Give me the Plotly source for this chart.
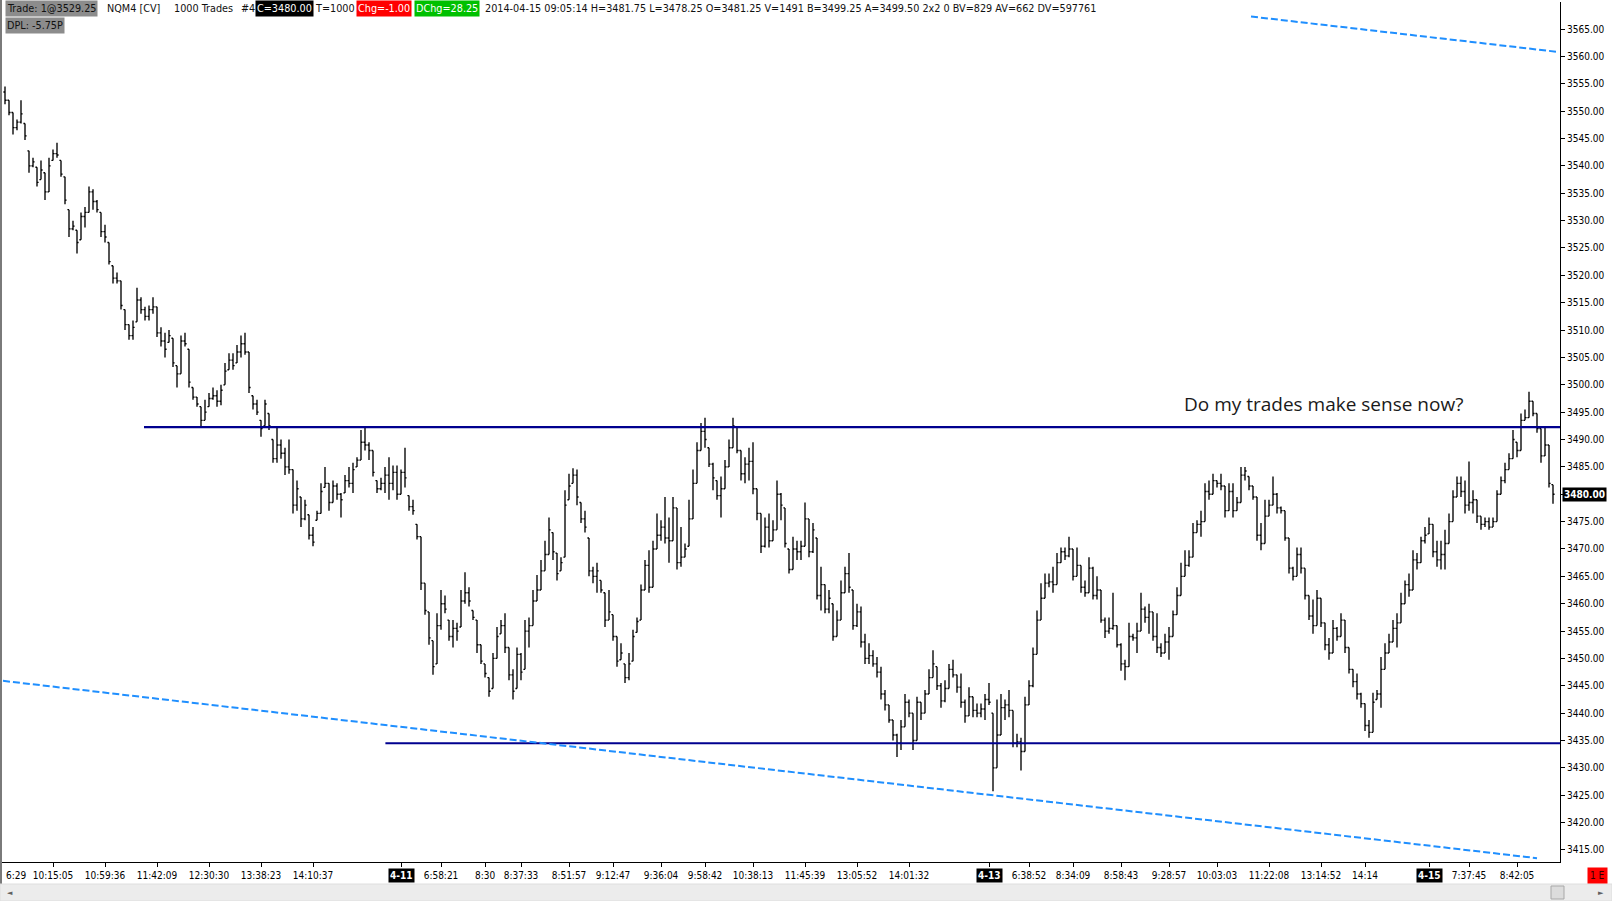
import plotly.graph_objects as go

# ---------------- data ----------------
# one OHLC bar per entry; bars are 1000-trade bars of NQM4
high = [
    # 4-10
    3554.5, 3552.0, 3549.75, 3548.5, 3552.0, 3547.75, 3542.75, 3541.5, 3539.75, 3541.0,
    3538.75, 3541.5, 3543.0, 3544.25, 3541.0, 3538.0, 3532.0, 3530.0, 3528.25, 3531.5,
    3532.5, 3536.25, 3535.75, 3533.75, 3531.5, 3529.25, 3526.0, 3521.75, 3520.5, 3519.0,
    3513.75, 3511.0, 3511.75, 3517.75, 3516.0, 3514.25, 3514.5, 3516.0, 3514.25, 3510.5,
    3509.5, 3510.0, 3508.5, 3503.5, 3509.0, 3509.5, 3506.5, 3499.5, 3497.75, 3496.0,
    3497.25, 3498.5, 3499.5, 3499.0, 3500.0, 3504.0, 3505.75, 3505.75, 3507.25, 3509.0,
    3509.5, 3506.0, 3498.0,
    3497.25, 3493.5, 3497.25, 3494.75, 3490.0, 3492.25, 3490.0, 3488.5, 3490.0, 3484.5,
    3482.5, 3479.5, 3479.0, 3476.25, 3474.0, 3477.0, 3482.0, 3485.0, 3482.0, 3482.5,
    3482.0, 3480.25, 3483.5, 3485.0, 3485.75, 3486.75, 3491.75, 3492.25, 3489.5, 3488.0,
    # 4-11
    3482.5, 3483.0, 3485.0, 3486.75, 3485.25, 3485.25, 3484.5, 3488.5, 3479.75, 3479.0,
    3474.5, 3472.25, 3463.75, 3458.5, 3453.25, 3458.25, 3462.5, 3461.5, 3457.0, 3457.0,
    3456.5, 3462.5, 3465.75, 3463.0, 3458.75, 3457.0, 3452.5, 3449.0, 3446.5, 3451.0,
    3455.75, 3457.0, 3458.25, 3452.0, 3448.0, 3452.0, 3451.0, 3457.0, 3457.5, 3462.5,
    3465.25, 3468.0, 3471.5, 3475.75, 3473.0, 3469.25, 3468.5, 3480.75, 3483.75, 3484.75,
    3484.5, 3478.5, 3477.0, 3472.0, 3466.75, 3467.5, 3464.25, 3462.0, 3462.5, 3458.0,
    3454.0, 3452.75, 3449.0, 3451.0, 3455.25, 3457.5,
    3463.5, 3468.0, 3469.75, 3471.5, 3476.5, 3475.25, 3479.5, 3475.75, 3479.5, 3477.5,
    3474.0, 3471.0, 3479.0, 3484.5, 3489.5, 3493.0, 3494.0, 3488.5, 3485.75, 3482.5,
    3483.25, 3486.25, 3490.0, 3494.0, 3492.25, 3488.0, 3486.75, 3488.5, 3489.5, 3481.0,
    3476.5, 3475.75, 3476.5, 3475.25, 3482.5, 3480.25, 3477.5, 3470.0, 3472.25, 3471.5,
    3471.5, 3478.5, 3475.5, 3474.75, 3472.0, 3466.75, 3463.5, 3462.5, 3460.0, 3458.75,
    3464.25, 3466.75, 3469.25, 3462.5, 3460.0, 3459.5, 3454.5, 3452.75, 3451.5, 3450.25,
    3448.5, 3444.25, 3441.5, 3438.75, 3436.25, 3438.75, 3443.5, 3442.5, 3440.0, 3443.0,
    3442.0, 3444.25, 3448.0, 3451.5, 3448.5, 3445.5, 3446.0, 3449.0, 3449.75, 3447.0,
    3447.25, 3442.5, 3444.75, 3443.0, 3441.75, 3441.75, 3443.5, 3445.5,
    # 4-13 / 4-14
    3440.0, 3442.5,
    3443.5, 3442.5, 3444.25, 3440.5, 3436.25, 3435.5, 3443.0, 3446.0,
    3452.0, 3458.75, 3463.75, 3465.5, 3465.5, 3466.75, 3469.25, 3470.25, 3470.25, 3472.25,
    3470.0, 3470.25, 3467.0, 3464.25, 3468.5, 3466.75, 3465.0, 3462.5, 3457.5, 3457.5,
    3462.0, 3456.0, 3452.75, 3449.75, 3456.5, 3454.5, 3456.5, 3462.0, 3459.5, 3460.0,
    3458.5, 3458.25, 3452.75, 3454.5, 3455.75, 3458.75, 3463.0, 3467.5, 3469.75, 3469.75,
    3474.75, 3475.25, 3477.0, 3482.0, 3482.5, 3483.75, 3482.5, 3483.75, 3481.5, 3482.0,
    3482.0, 3479.5, 3485.0, 3485.0, 3483.25, 3481.5, 3479.5, 3474.75, 3479.0, 3479.0,
    3483.25, 3480.25, 3477.75, 3477.0, 3472.0, 3466.75, 3470.25, 3470.25, 3466.5, 3461.5,
    3460.75, 3462.5, 3461.0, 3456.5, 3453.75, 3457.0, 3455.75, 3458.25, 3457.0, 3452.0,
    3448.0, 3447.25, 3443.75, 3441.75, 3438.75, 3443.75, 3444.25, 3450.25, 3452.75, 3454.5,
    3457.0, 3458.25, 3462.0, 3464.25, 3465.5, 3469.75, 3469.25, 3472.25, 3474.0, 3475.75,
    3474.5, 3471.5, 3471.5, 3473.5, 3476.5,
    # 4-15
    3480.75, 3483.25, 3483.25, 3482.5, 3486.0, 3480.75, 3479.0, 3476.0, 3475.75, 3475.75,
    3475.75, 3480.75, 3483.25, 3485.75, 3487.5, 3491.75, 3489.5, 3494.75, 3495.5, 3498.75,
    3497.0, 3494.75, 3492.0, 3492.25, 3489.0, 3481.75,
]
low = [
    3551.25, 3549.25, 3545.75, 3546.5, 3547.75, 3544.75, 3538.75, 3539.75, 3536.25, 3537.5,
    3533.75, 3535.25, 3541.0, 3541.5, 3538.0, 3533.0, 3527.0, 3528.25, 3524.0, 3526.5,
    3528.75, 3531.5, 3532.0, 3531.5, 3527.0, 3526.0, 3522.0, 3518.5, 3518.5, 3513.75,
    3510.0, 3508.25, 3508.25, 3511.5, 3513.0, 3511.75, 3511.75, 3513.0, 3508.75, 3507.0,
    3505.0, 3507.75, 3503.25, 3499.5, 3502.0, 3507.0, 3499.5, 3497.25, 3496.0, 3492.25,
    3493.5, 3496.0, 3497.25, 3496.0, 3496.25, 3500.0, 3502.75, 3502.75, 3504.0, 3505.0,
    3505.5, 3498.5, 3495.5,
    3494.5, 3490.5, 3492.5, 3491.75, 3485.75, 3485.75, 3486.5, 3483.5, 3483.75, 3476.5,
    3477.0, 3474.0, 3475.25, 3471.75, 3470.5, 3475.25, 3476.5, 3481.25, 3477.0, 3478.5,
    3479.0, 3475.75, 3480.25, 3481.25, 3480.25, 3485.0, 3486.25, 3488.0, 3486.25, 3483.25,
    3480.25, 3480.75, 3480.25, 3479.0, 3480.75, 3479.0, 3480.0, 3481.25, 3477.0, 3476.25,
    3471.75, 3462.5, 3458.0, 3452.5, 3447.0, 3449.0, 3455.25, 3458.25, 3453.25, 3452.0,
    3453.25, 3455.75, 3460.0, 3459.5, 3457.0, 3451.0, 3449.0, 3446.5, 3443.0, 3444.5,
    3450.0, 3454.5, 3451.0, 3446.0, 3442.5, 3444.5, 3446.0, 3448.0, 3452.0, 3456.0,
    3460.5, 3462.5, 3466.0, 3469.0, 3468.0, 3464.25, 3466.0, 3468.5, 3479.0, 3482.0,
    3478.0, 3474.75, 3473.0, 3465.0, 3463.75, 3462.0, 3462.0, 3455.75, 3457.0, 3453.25,
    3448.5, 3449.75, 3445.5, 3446.0, 3449.5, 3454.75,
    3457.0, 3462.5, 3462.0, 3463.0, 3470.0, 3471.5, 3471.0, 3467.5, 3471.5, 3466.25,
    3466.75, 3468.5, 3470.5, 3475.5, 3482.0, 3488.0, 3488.5, 3485.0, 3480.75, 3479.0,
    3475.75, 3481.0, 3485.0, 3488.5, 3487.5, 3482.5, 3482.0, 3482.5, 3480.0, 3475.25,
    3469.25, 3470.25, 3470.25, 3471.5, 3473.5, 3475.25, 3470.25, 3465.5, 3466.25, 3468.0,
    3468.0, 3470.5, 3468.5, 3469.25, 3460.75, 3458.75, 3458.25, 3458.25, 3453.25, 3454.0,
    3457.0, 3462.0, 3462.0, 3455.25, 3455.75, 3452.0, 3449.0, 3449.0, 3448.5, 3446.5,
    3442.5, 3440.5, 3438.25, 3435.0, 3432.0, 3433.25, 3437.5, 3439.25, 3433.25, 3435.0,
    3438.75, 3440.0, 3443.5, 3446.5, 3444.25, 3441.0, 3442.0, 3444.5, 3446.5, 3443.75,
    3441.0, 3438.25, 3439.5, 3439.25, 3439.25, 3439.25, 3438.75, 3441.5,
    3425.75, 3430.0,
    3436.0, 3438.75, 3439.25, 3433.75, 3433.75, 3429.5, 3433.0, 3441.5,
    3444.75, 3450.75, 3457.0, 3461.0, 3463.0, 3462.0, 3463.5, 3467.5, 3468.0, 3468.5,
    3464.25, 3465.0, 3462.0, 3461.25, 3462.0, 3460.75, 3460.75, 3456.5, 3453.75, 3454.5,
    3455.25, 3452.0, 3447.75, 3446.0, 3448.5, 3453.25, 3451.0, 3455.0, 3456.5, 3454.5,
    3453.25, 3451.0, 3450.25, 3451.0, 3449.75, 3454.0, 3458.0, 3461.5, 3465.0, 3466.75,
    3468.5, 3473.0, 3472.25, 3475.0, 3479.0, 3480.0, 3481.25, 3480.75, 3475.75, 3477.0,
    3475.75, 3477.0, 3478.5, 3482.5, 3480.75, 3479.0, 3471.5, 3469.75, 3471.0, 3476.0,
    3478.0, 3476.5, 3476.5, 3471.5, 3465.5, 3464.25, 3465.0, 3465.5, 3460.75, 3457.0,
    3454.5, 3456.0, 3455.75, 3451.5, 3449.75, 3451.0, 3453.25, 3454.0, 3451.0, 3447.25,
    3444.75, 3442.5, 3441.0, 3436.75, 3435.5, 3436.5, 3442.5, 3441.0, 3448.0, 3451.0,
    3453.0, 3452.0, 3456.5, 3460.0, 3461.25, 3462.5, 3466.25, 3467.5, 3471.0, 3472.75,
    3468.5, 3466.75, 3466.25, 3466.25, 3471.0,
    3475.0, 3479.5, 3479.5, 3476.5, 3477.0, 3476.5, 3474.75, 3473.5, 3474.0, 3473.5,
    3474.0, 3475.0, 3480.0, 3482.0, 3484.5, 3486.5, 3486.75, 3488.0, 3493.5, 3494.0,
    3494.25, 3491.25, 3485.75, 3487.0, 3481.25, 3478.25,
]
close = [
    3552.0, 3549.75, 3547.0, 3548.0, 3549.5, 3545.5, 3540.0, 3540.75, 3537.0, 3539.25,
    3535.25, 3540.0, 3542.25, 3542.0, 3538.5, 3533.75, 3528.5, 3529.0, 3526.0, 3530.75,
    3531.5, 3535.25, 3533.5, 3532.0, 3528.0, 3527.0, 3522.5, 3519.5, 3519.0, 3514.5,
    3511.0, 3509.0, 3510.5, 3515.5, 3513.75, 3512.5, 3513.75, 3514.25, 3509.5, 3508.0,
    3506.5, 3509.0, 3504.0, 3502.0, 3508.0, 3507.5, 3500.5, 3497.75, 3496.5, 3493.5,
    3495.0, 3497.5, 3498.0, 3497.0, 3499.0, 3502.5, 3504.5, 3503.5, 3506.0, 3507.5,
    3506.0, 3499.5, 3496.5,
    3495.0, 3492.0, 3496.5, 3492.5, 3486.5, 3489.0, 3487.5, 3485.0, 3484.5, 3478.0,
    3481.0, 3475.5, 3478.0, 3472.5, 3471.25, 3476.5, 3480.5, 3482.0, 3478.5, 3481.5,
    3480.0, 3479.0, 3482.5, 3482.0, 3484.5, 3486.25, 3489.5, 3489.0, 3488.0, 3484.0,
    3481.0, 3482.0, 3483.5, 3482.0, 3484.0, 3480.0, 3484.0, 3483.0, 3477.75, 3477.0,
    3472.25, 3463.75, 3458.75, 3453.75, 3448.5, 3456.0, 3460.0, 3459.0, 3454.0, 3455.5,
    3455.0, 3460.5, 3462.0, 3460.5, 3457.5, 3452.5, 3449.5, 3447.25, 3444.0, 3450.0,
    3454.0, 3456.0, 3452.0, 3447.0, 3444.0, 3450.75, 3447.5, 3455.0, 3456.0, 3460.5,
    3462.5, 3466.0, 3469.0, 3473.5, 3469.5, 3465.5, 3467.5, 3478.0, 3481.5, 3483.5,
    3479.5, 3475.5, 3474.0, 3466.0, 3465.0, 3466.0, 3462.5, 3457.0, 3458.5, 3454.0,
    3449.5, 3451.0, 3446.5, 3449.0, 3454.0, 3456.75,
    3462.5, 3467.0, 3463.0, 3470.0, 3472.5, 3474.0, 3472.0, 3471.5, 3477.5, 3467.5,
    3468.5, 3470.0, 3475.5, 3482.0, 3488.0, 3491.5, 3490.0, 3485.5, 3483.0, 3479.75,
    3481.0, 3485.0, 3488.5, 3492.5, 3488.0, 3483.75, 3485.5, 3486.0, 3481.0, 3476.5,
    3470.5, 3474.0, 3471.5, 3473.5, 3480.0, 3478.0, 3471.0, 3466.25, 3470.0, 3469.5,
    3470.5, 3475.5, 3469.5, 3473.5, 3461.5, 3463.5, 3459.0, 3461.0, 3454.0, 3457.0,
    3462.0, 3465.5, 3463.0, 3456.0, 3458.5, 3453.0, 3450.0, 3450.5, 3449.0, 3447.5,
    3443.5, 3441.5, 3438.75, 3436.0, 3434.5, 3437.5, 3442.0, 3440.0, 3435.0, 3442.0,
    3440.0, 3443.5, 3446.5, 3449.0, 3445.0, 3442.25, 3444.5, 3448.0, 3447.0, 3444.75,
    3442.0, 3439.5, 3443.0, 3440.5, 3440.0, 3440.75, 3442.5, 3442.0,
    3430.0, 3436.0,
    3441.0, 3441.5, 3440.5, 3434.5, 3434.75, 3433.0, 3441.5, 3445.0,
    3450.75, 3457.0, 3461.0, 3463.75, 3464.0, 3463.5, 3467.5, 3469.5, 3468.75, 3470.0,
    3465.0, 3467.0, 3463.0, 3462.0, 3466.5, 3461.5, 3462.5, 3457.0, 3455.0, 3455.5,
    3456.0, 3452.5, 3449.0, 3448.5, 3454.0, 3453.75, 3455.0, 3459.0, 3457.5, 3458.5,
    3454.0, 3452.0, 3451.0, 3453.0, 3454.0, 3458.0, 3461.5, 3465.0, 3467.0, 3468.5,
    3473.0, 3474.5, 3475.0, 3480.5, 3480.0, 3482.5, 3482.0, 3481.5, 3477.0, 3480.5,
    3477.0, 3478.5, 3483.5, 3484.25, 3481.5, 3479.5, 3472.5, 3471.0, 3476.0, 3478.0,
    3480.0, 3477.5, 3477.0, 3472.0, 3466.5, 3465.0, 3469.0, 3466.5, 3461.5, 3457.75,
    3456.0, 3461.0, 3456.5, 3452.5, 3451.0, 3455.5, 3454.0, 3457.0, 3452.0, 3448.0,
    3445.75, 3443.5, 3441.75, 3437.75, 3436.5, 3442.0, 3443.5, 3448.0, 3451.0, 3453.0,
    3455.5, 3456.5, 3460.0, 3463.5, 3462.5, 3468.0, 3467.5, 3471.5, 3472.5, 3474.5,
    3469.5, 3468.0, 3469.0, 3471.0, 3475.0,
    3479.5, 3482.0, 3480.5, 3478.0, 3478.5, 3479.0, 3476.0, 3474.5, 3475.0, 3474.0,
    3475.0, 3480.0, 3482.5, 3484.5, 3486.5, 3490.0, 3488.0, 3493.5, 3494.0, 3497.0,
    3494.75, 3492.0, 3487.0, 3489.0, 3482.0, 3480.0,
]
first_open = 3553.5

x_tick_idx = [12, 25, 38, 51, 64, 77, 99, 109, 120, 129, 141, 152, 164, 175, 187,
              200, 213, 226, 246, 256, 267, 279, 291, 303, 316, 329, 340, 356, 366, 378]
x_tick_txt = ["10:15:05", "10:59:36", "11:42:09", "12:30:30", "13:38:23", "14:10:37", "",
              "6:58:21", "8:30", "8:37:33", "8:51:57", "9:12:47", "9:36:04", "9:58:42",
              "10:38:13", "11:45:39", "13:05:52", "14:01:32", "", "6:38:52", "8:34:09",
              "8:58:43", "9:28:57", "10:03:03", "11:22:08", "13:14:52", "14:14", "",
              "7:37:45", "8:42:05"]
day_idx = [99, 246, 356]
day_txt = ["4-11", "4-13", "4-15"]
first_label = "6:29"

level_price = [3492.25, 3434.5]
level_from = [34.75, 95.1]
lower_channel_x = [-0.5, 383.0]
lower_channel_y = [3445.9, 3413.5]
upper_channel_x = [311.5, 388.0]
upper_channel_y = [3567.3, 3560.85]
last_price = 3480.00
note_text = "Do my trades make sense now?"

header_items = [
    ("Trade: 1@3529.25", 5, 8.5, "#8c8c8c", "#111111"),
    ("NQM4 [CV]", 105, 8.5, None, "#111111"),
    ("1000 Trades", 172, 8.5, None, "#111111"),
    ("#4", 239, 8.5, None, "#111111"),
    ("C=3480.00", 255, 8.5, "#000000", "#ffffff"),
    ("T=1000", 313, 8.5, None, "#111111"),
    ("Chg=-1.00", 356, 8.5, "#ff0000", "#ffffff"),
    ("DChg=28.25", 414, 8.5, "#00c000", "#ffffff"),
    ("2014-04-15 09:05:14 H=3481.75 L=3478.25 O=3481.25 V=1491 B=3499.25 "
     "A=3499.50 2x2 0 BV=829 AV=662 DV=597761", 483, 8.5, None, "#111111"),
    ("DPL: -5.75P", 5, 25, "#8c8c8c", "#111111"),
]

# ---------------- geometry ----------------
W, H = 1612, 901
ML, MR, MT, MB = 2, 52, 2, 39
PW, PH = W - ML - MR, H - MT - MB
X_RANGE = [-0.75, 388.75]
Y_RANGE = [3412.8, 3569.95]
FONT = "DejaVu Sans Condensed, Liberation Sans Narrow, DejaVu Sans, sans-serif"


def xp(px):
    return (px - ML) / PW


def yp(py):
    return (H - MB - py) / PH


opens = []
prev = first_open
for h_, l_, c_ in zip(high, low, close):
    opens.append(min(max(prev, l_), h_))
    prev = c_

idx = list(range(len(close)))

fig = go.Figure()
fig.add_trace(go.Ohlc(
    x=idx, open=opens, high=high, low=low, close=close,
    increasing=dict(line=dict(color="#000000", width=1.35)),
    decreasing=dict(line=dict(color="#000000", width=1.35)),
    tickwidth=0.4, hoverinfo="skip", showlegend=False,
))

shapes = []
for p, x0 in zip(level_price, level_from):
    shapes.append(dict(type="line", xref="x", yref="y", x0=x0, x1=X_RANGE[1], y0=p, y1=p,
                       line=dict(color="#00008f", width=2.2)))
for cx, cy in ((lower_channel_x, lower_channel_y), (upper_channel_x, upper_channel_y)):
    shapes.append(dict(type="line", xref="x", yref="y", x0=cx[0], x1=cx[1], y0=cy[0], y1=cy[1],
                       line=dict(color="#1f8fff", width=2, dash="7px,3px")))
# window chrome: left border, scrollbar strip, scroll thumb
shapes.append(dict(type="rect", xref="paper", yref="paper", x0=xp(0), x1=xp(2), y0=yp(884), y1=yp(0),
                   fillcolor="#7a7a7a", line=dict(width=0), layer="above"))
shapes.append(dict(type="rect", xref="paper", yref="paper", x0=xp(0), x1=xp(W), y0=yp(H), y1=yp(884),
                   fillcolor="#ececec", line=dict(color="#dedede", width=1)))
shapes.append(dict(type="rect", xref="paper", yref="paper", x0=xp(1551), x1=xp(1564), y0=yp(899), y1=yp(886),
                   fillcolor="#dcdcdc", line=dict(color="#a8a8a8", width=1)))

ann = []
for text, px, py, bg, fg in header_items:
    ann.append(dict(text=text, xref="paper", yref="paper", x=xp(px), y=yp(py),
                    xanchor="left", yanchor="middle", showarrow=False,
                    font=dict(family=FONT, size=10.75, color=fg),
                    bgcolor=bg if bg else "rgba(0,0,0,0)", borderpad=1))
for i_, t_ in zip(day_idx, day_txt):
    ann.append(dict(text="<b>" + t_ + "</b>", xref="x", yref="paper", x=i_, y=yp(875),
                    xanchor="center", yanchor="middle", showarrow=False,
                    font=dict(family=FONT, size=10, color="#ffffff"),
                    bgcolor="#000000", borderpad=1))
ann.append(dict(text=first_label, xref="paper", yref="paper", x=xp(4), y=yp(875),
                xanchor="left", yanchor="middle", showarrow=False,
                font=dict(family=FONT, size=10, color="#000000")))
ann.append(dict(text="<b>%.2f</b>" % last_price, xref="paper", yref="y", x=xp(1562), y=last_price,
                xanchor="left", yanchor="middle", showarrow=False,
                font=dict(family=FONT, size=10, color="#ffffff"),
                bgcolor="#000000", borderpad=1))
ann.append(dict(text=note_text, xref="paper", yref="paper", x=xp(1323.5), y=yp(404),
                xanchor="center", yanchor="middle", showarrow=False,
                font=dict(family="Open Sans, Noto Sans, sans-serif", size=19, color="#1a1a1a")))
ann.append(dict(text="1 E", xref="paper", yref="paper", x=xp(1597), y=yp(876),
                xanchor="center", yanchor="middle", showarrow=False,
                font=dict(family=FONT, size=10, color="#300000"),
                bgcolor="#ff0000", borderpad=2))
ann.append(dict(text="\u25c4", xref="paper", yref="paper", x=xp(10), y=yp(892.5),
                xanchor="center", yanchor="middle", showarrow=False,
                font=dict(family="DejaVu Sans", size=7, color="#606060")))
ann.append(dict(text="\u25ba", xref="paper", yref="paper", x=xp(1601), y=yp(892.5),
                xanchor="center", yanchor="middle", showarrow=False,
                font=dict(family="DejaVu Sans", size=7, color="#606060")))

fig.update_layout(
    width=W, height=H,
    margin=dict(l=ML, r=MR, t=MT, b=MB, pad=0),
    paper_bgcolor="#ffffff", plot_bgcolor="#ffffff",
    showlegend=False, hovermode=False,
    shapes=shapes, annotations=ann,
    xaxis=dict(range=X_RANGE, rangeslider=dict(visible=False), showgrid=False, zeroline=False,
               showline=True, linecolor="#000000", linewidth=1, ticks="outside", ticklen=4,
               tickcolor="#000000", tickvals=x_tick_idx, ticktext=x_tick_txt,
               tickfont=dict(family=FONT, size=10, color="#000000"), fixedrange=True),
    yaxis=dict(range=Y_RANGE, side="right", showgrid=False, zeroline=False,
               showline=True, linecolor="#000000", linewidth=1, ticks="outside", ticklen=4,
               tickcolor="#000000", tick0=3415, dtick=5, tickformat=".2f",
               tickfont=dict(family=FONT, size=10, color="#000000"), fixedrange=True),
)

fig.write_html("out.html", config={"displayModeBar": False, "staticPlot": True},
               post_script="document.body.style.margin='0';document.body.style.overflow='hidden';")
